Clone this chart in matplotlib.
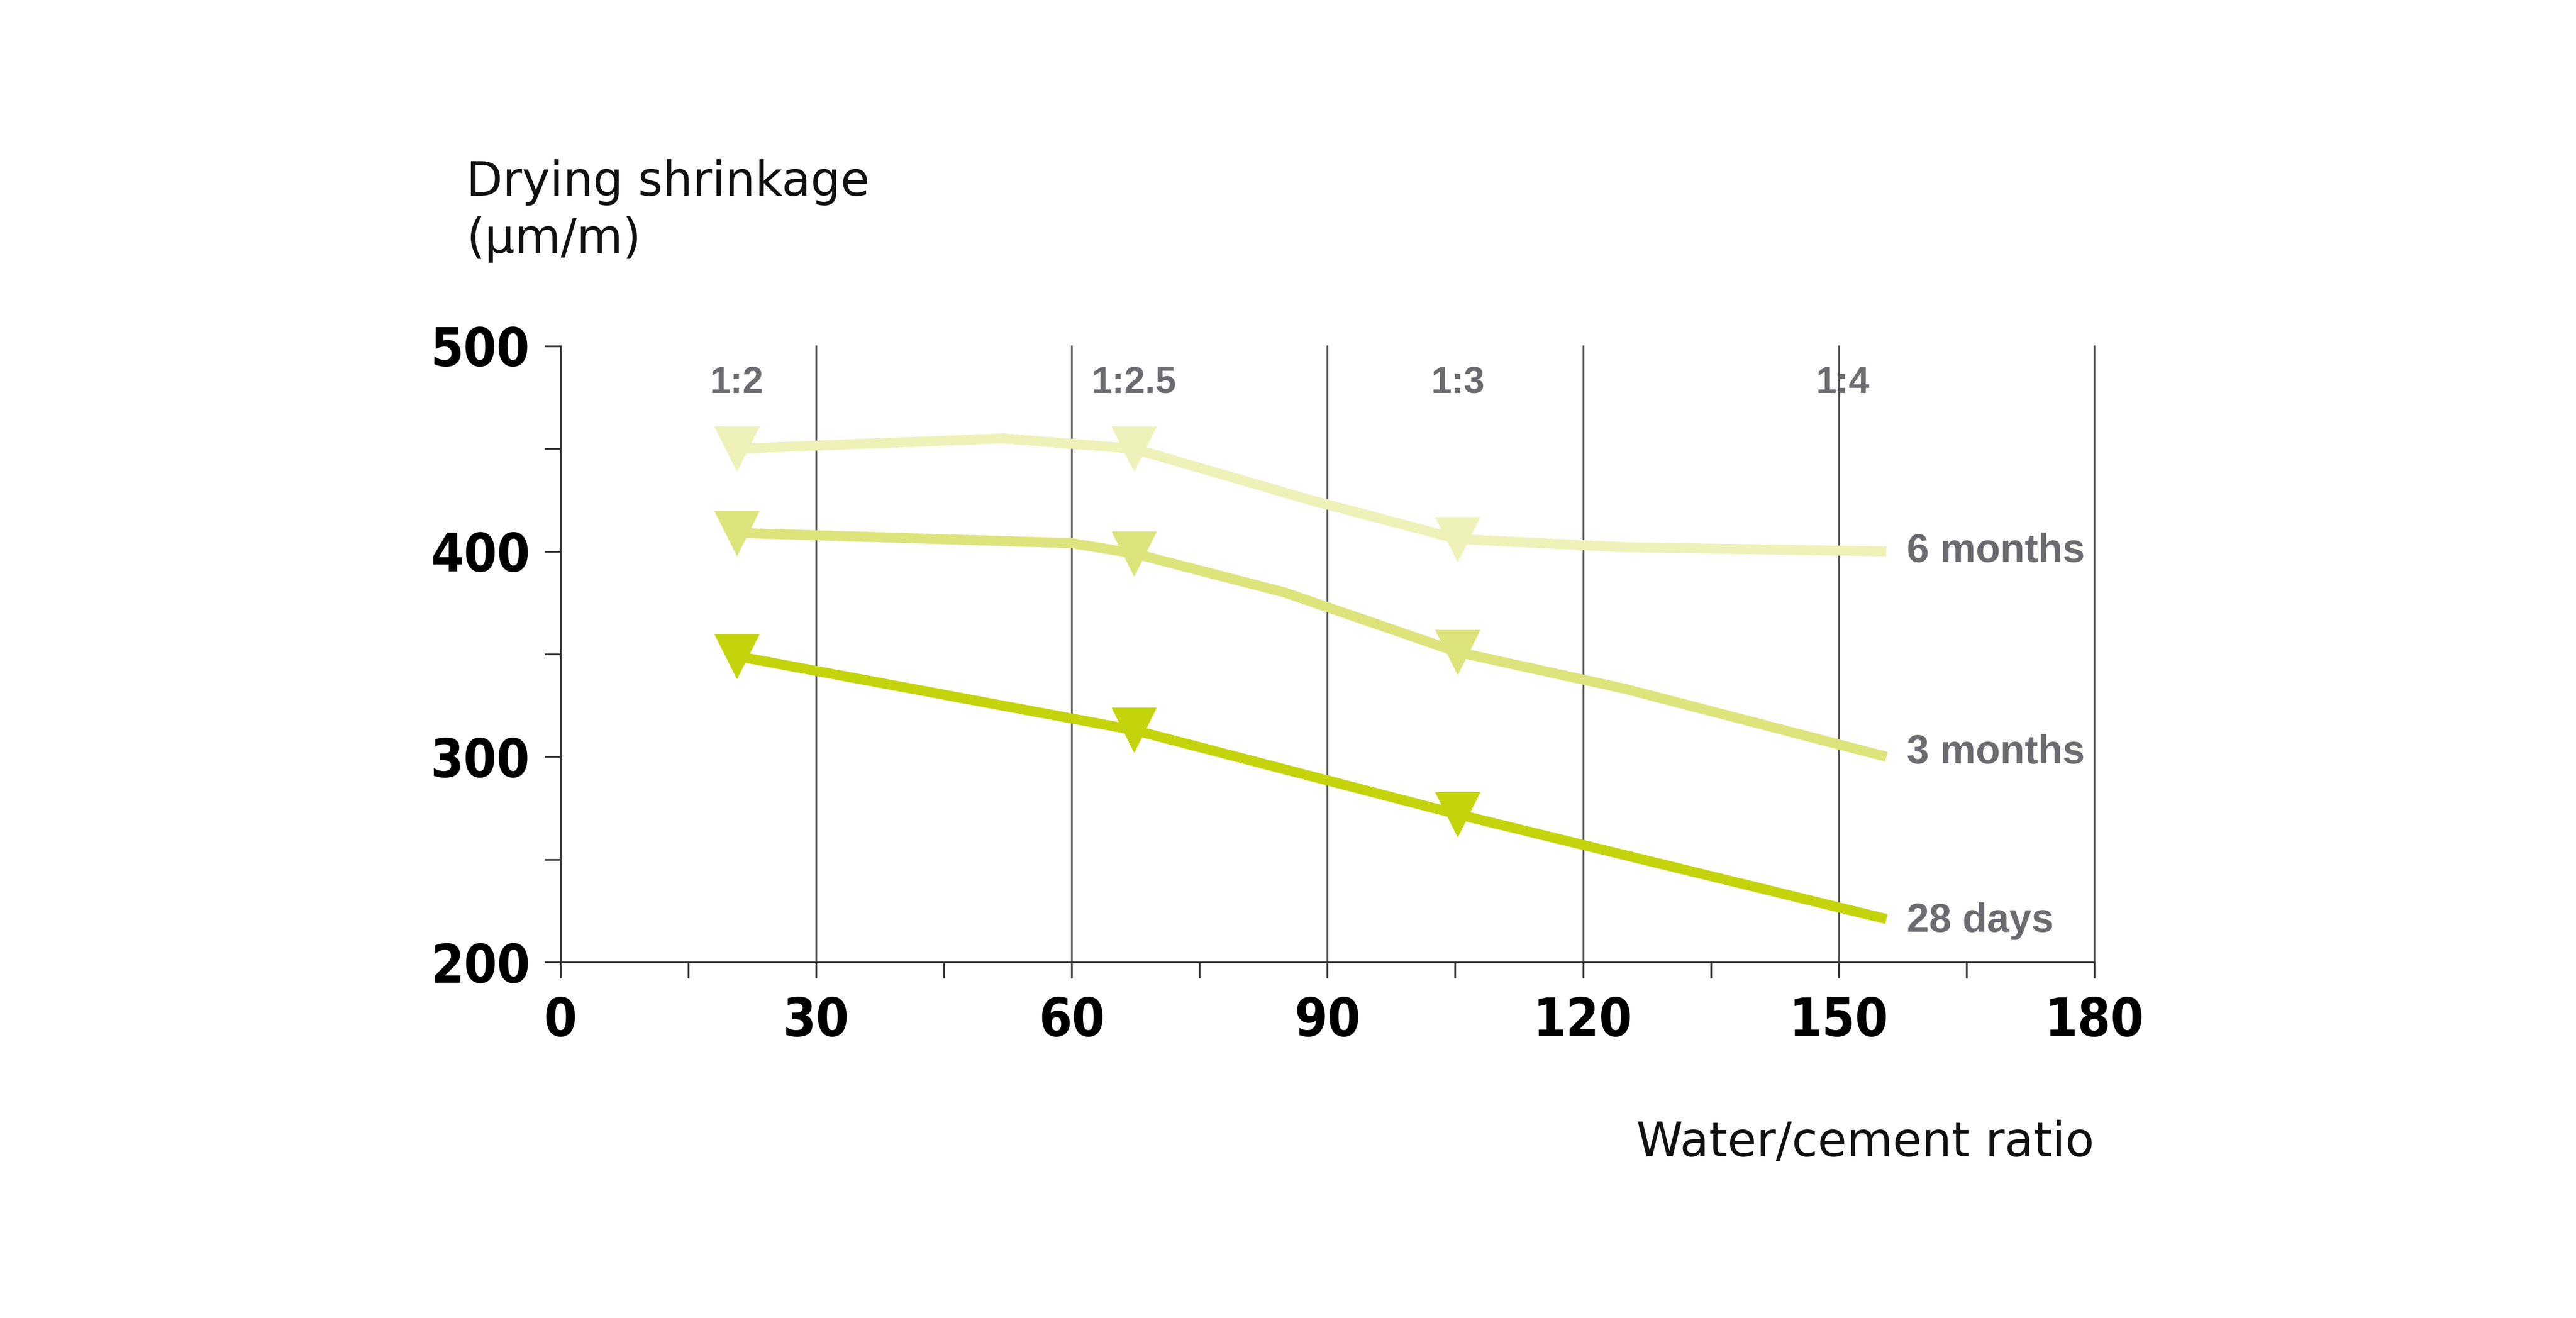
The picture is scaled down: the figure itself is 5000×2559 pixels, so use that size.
import matplotlib
matplotlib.use("Agg")
import matplotlib.pyplot as plt
from matplotlib.ticker import MultipleLocator

# data
mix_labels = ["1:2", "1:2.5", "1:3", "1:4"]
mix_x = [20.7, 67.3, 105.3, 150.5]
marker_x = [20.7, 67.3, 105.3]

x_6m = [20.7, 52, 67.3, 88, 105.3, 125, 155.6]
y_6m = [450, 455, 450, 425, 406, 402, 400]
mk_6m = [450, 450, 406]

x_3m = [20.7, 60, 67.3, 85, 105.3, 125, 155.6]
y_3m = [409, 404, 399, 380, 351, 333, 300]
mk_3m = [409, 399, 351]

x_28d = [20.7, 67.3, 105.3, 155.6]
y_28d = [349, 313, 272, 221]
mk_28d = [349, 313, 272]

series = [
    ("6 months", x_6m, y_6m, mk_6m, "#eef2b9"),
    ("3 months", x_3m, y_3m, mk_3m, "#dde47c"),
    ("28 days", x_28d, y_28d, mk_28d, "#c4d40c"),
]
label_y = [400, 302, 220]

gray = "#6b6b70"

fig = plt.figure(figsize=(50, 25.59), dpi=100)
ax = fig.add_axes([0.2175, 0.27, 0.5955, 0.4675])

for name, xs, ys, mk, col in series:
    ax.plot(xs, ys, color=col, lw=14, solid_capstyle="butt",
            solid_joinstyle="round", zorder=3)
    ax.plot(marker_x, mk, ls="none", marker="v", ms=62, color=col, zorder=4)

for (name, xs, ys, mk, col), ly in zip(series, label_y):
    ax.text(158, ly, name, color=gray, fontsize=56, fontweight="bold",
            va="center", ha="left", family="Liberation Sans")

for lab, x in zip(mix_labels, mix_x):
    ax.text(x, 482, lab, color=gray, fontsize=52, fontweight="bold",
            ha="center", va="center", family="Liberation Sans")

ax.set_xlim(0, 180)
ax.set_ylim(200, 500)
for v in range(30, 181, 30):
    ax.axvline(v, color="#555555", lw=2.5, zorder=1, clip_on=False)
for s in ("top", "right"):
    ax.spines[s].set_visible(False)
for s in ("left", "bottom"):
    ax.spines[s].set_linewidth(2.5)
    ax.spines[s].set_color("#333333")

ax.xaxis.set_major_locator(MultipleLocator(30))
ax.xaxis.set_minor_locator(MultipleLocator(15))
ax.yaxis.set_major_locator(MultipleLocator(100))
ax.yaxis.set_minor_locator(MultipleLocator(50))
ax.tick_params(axis="x", which="both", direction="out", length=22, width=2.5,
               color="#333333", pad=25)
ax.tick_params(axis="y", which="both", direction="out", length=22, width=2.5,
               color="#333333", pad=20)
for t in ax.get_xticklabels() + ax.get_yticklabels():
    t.set_fontfamily("DejaVu Sans")
    t.set_fontstretch("condensed")
    t.set_fontweight("bold")
    t.set_fontsize(74)

fig.text(0.181, 0.84, "Drying shrinkage\n(µm/m)", fontsize=66,
         ha="left", va="center", linespacing=1.3, color="#111111")
fig.text(0.813, 0.133, "Water/cement ratio", fontsize=66,
         ha="right", va="center", color="#111111")

fig.savefig("out.png", dpi=100, facecolor="white")
